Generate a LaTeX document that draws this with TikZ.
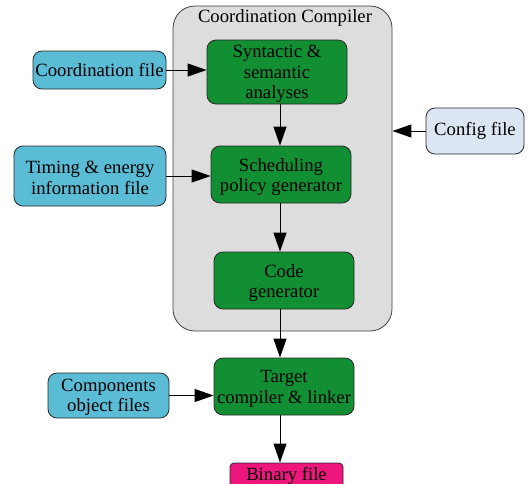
\documentclass[tikz,border=0pt]{standalone}
\usepackage{fontspec}
\setmainfont{Liberation Serif}
\usetikzlibrary{arrows.meta}
\definecolor{boxgreen}{RGB}{18,143,50}
\definecolor{boxblue}{RGB}{91,188,214}
\definecolor{boxgray}{RGB}{221,221,221}
\definecolor{boxcfg}{RGB}{220,230,242}
\definecolor{boxpink}{RGB}{236,22,124}
\definecolor{edge}{RGB}{40,40,40}
\begin{document}
\begin{tikzpicture}[x=1pt,y=-1pt,
  every node/.style={font=\fontsize{18.7}{20.5}\selectfont, align=center, inner sep=0pt, text=black},
  box/.style={draw=edge, line width=0.8pt, rounded corners=9pt},
  greenbox/.style={box, fill=boxgreen, minimum width=140pt},
  bluebox/.style={box, fill=boxblue},
  arr/.style={draw=black, line width=1pt, -{Triangle[length=19pt,width=13pt]}}]
\clip (0,0) rectangle (530,483);
\useasboundingbox (0,0) rectangle (530,483);
\node[draw=black!75, line width=0.8pt, fill=boxgray, rounded corners=22pt, minimum width=219pt, minimum height=325pt] (outer) at (282.5,168.5) {};
\node (title) at (285,18) {Coordination Compiler};
\node[greenbox, minimum height=64pt] (syn) at (277,72) {};
\node (synT) at ([yshift=-2pt]syn.center) {Syntactic \&\\semantic\\analyses};
\node[greenbox, minimum height=57pt] (sched) at (281,174.5) {};
\node (schedT) at ([yshift=-2.5pt]sched.center) {Scheduling\\policy generator};
\node[greenbox, minimum height=57pt] (code) at (284,280.5) {};
\node (codeT) at ([yshift=-2.5pt]code.center) {Code\\generator};
\node[greenbox, minimum height=57pt] (target) at (284,386.5) {};
\node (targetT) at ([yshift=-2.5pt]target.center) {Target\\compiler \& linker};
\node[box, fill=boxpink, minimum width=113pt, minimum height=26pt, rounded corners=4pt] (binary) at (286.5,476) {};
\node (binlabel) at (286.5,476) {Binary file};
\node[bluebox, minimum width=133pt, minimum height=38pt] (coord) at (99.5,70) {Coordination file};
\node[bluebox, minimum width=152pt, minimum height=60pt] (timing) at (90,176) {};
\node (timingT) at ([yshift=-2pt]timing.center) {Timing \& energy\\information file};
\node[box, fill=boxcfg, minimum width=98pt, minimum height=46pt] (config) at (475,131) {Config file};
\node[bluebox, minimum width=121pt, minimum height=45pt] (comp) at (108.5,395.5) {};
\node (compT) at ([yshift=-2pt]comp.center) {Components\\object files};
\coordinate (vx) at (280,0);
\draw[arr] (coord.east) -- (coord.east -| syn.west);
\draw[arr] (timing.east) -- (timing.east -| sched.west);
\draw[arr] (config.west) -- (config.west -| outer.east);
\draw[arr] (comp.east) -- (comp.east -| target.west);
\draw[arr] (syn.south -| vx) -- (sched.north -| vx);
\draw[arr] (sched.south -| vx) -- (code.north -| vx);
\draw[arr] (code.south -| vx) -- (target.north -| vx);
\draw[arr] (target.south -| vx) -- (binary.north -| vx);
\end{tikzpicture}
\end{document}
